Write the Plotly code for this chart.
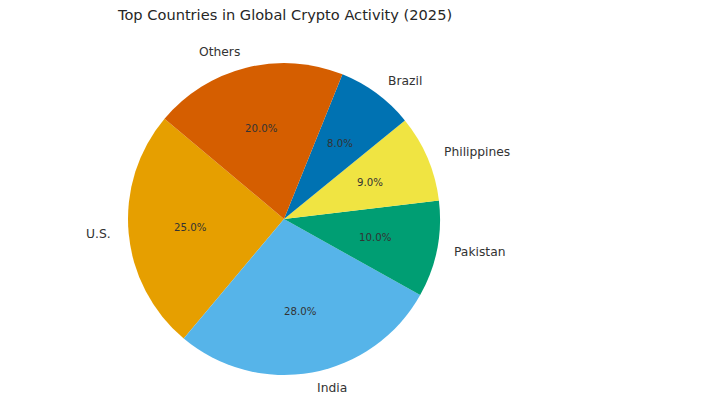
import math
import plotly.graph_objects as go

labels = ["U.S.", "India", "Pakistan", "Philippines", "Brazil", "Others"]
values = [25.0, 28.0, 10.0, 9.0, 8.0, 20.0]
colors = ["#E69F00", "#56B4E9", "#009E73", "#F0E442", "#0072B2", "#D55E00"]
title = "Top Countries in Global Crypto Activity (2025)"

W, H = 703, 398
CX, CY, R = 284, 219, 156
START = 140.0  # degrees, counterclockwise from 3 o'clock

fig = go.Figure()
fig.add_trace(go.Pie(
    labels=labels, values=values, sort=False,
    direction="counterclockwise", rotation=-140,
    marker=dict(colors=colors, line=dict(width=0)),
    textinfo="none", hoverinfo="label+percent", showlegend=False,
    domain=dict(x=[(CX - R) / W, (CX + R) / W],
                y=[1 - (CY + R) / H, 1 - (CY - R) / H]),
))

total = sum(values)
ann = []
acc = START
for lab, v in zip(labels, values):
    span = 360.0 * v / total
    mid = math.radians(acc + span / 2)
    acc += span
    c, s = math.cos(mid), math.sin(mid)
    ann.append(dict(
        x=(CX + 0.6 * R * c) / W, y=1 - (CY - 0.6 * R * s) / H,
        xref="paper", yref="paper", text=f"{100 * v / total:.1f}%",
        showarrow=False, xanchor="center", yanchor="middle",
        font=dict(family="DejaVu Sans", size=10.2, color="#333333")))
    ann.append(dict(
        x=(CX + 1.1 * R * c) / W, y=1 - (CY - 1.1 * R * s) / H,
        xref="paper", yref="paper", text=lab,
        showarrow=False, xanchor="left" if c > 0 else "right", yanchor="middle",
        font=dict(family="DejaVu Sans", size=12.3, color="#333333")))

ann.append(dict(x=CX / W, y=1 - 14 / H, xref="paper", yref="paper", text=title,
                showarrow=False, xanchor="center", yanchor="middle",
                font=dict(family="DejaVu Sans", size=14.6, color="#262626")))

fig.update_layout(
    width=W, height=H, margin=dict(l=0, r=0, t=0, b=0),
    paper_bgcolor="white", plot_bgcolor="white",
    annotations=ann,
)
fig.write_html("out.html")
